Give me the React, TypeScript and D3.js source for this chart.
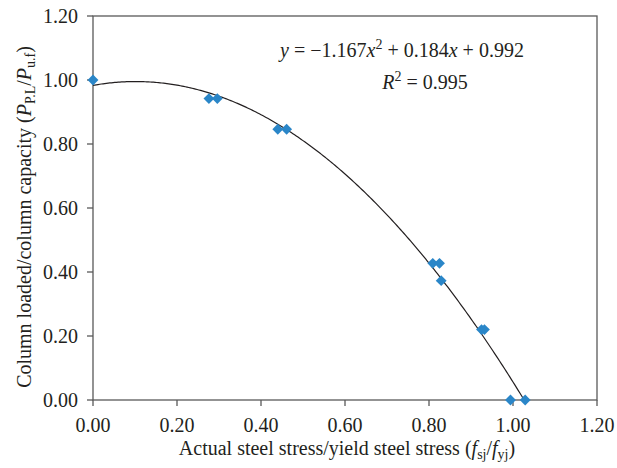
import React from "react";
import * as d3 from "d3";

const xValues = [0.0, 0.276, 0.296, 0.44, 0.461, 0.809, 0.825, 0.829, 0.925, 0.932, 0.994, 1.029];
const yValues = [1.0, 0.942, 0.942, 0.846, 0.846, 0.427, 0.427, 0.373, 0.22, 0.22, 0.0, 0.0];
const xTicks = [0, 0.2, 0.4, 0.6, 0.8, 1.0, 1.2];
const yTicks = [0, 0.2, 0.4, 0.6, 0.8, 1.0, 1.2];

const W = 617, H = 468;
const M = { left: 93, top: 16, right: 597, bottom: 400 };
const FONT = "'Liberation Serif', 'Times New Roman', serif";
const AXIS = "#595959";
const FS = 20;
const SUB = 14;

// least-squares quadratic fit of the data (trendline)
function quadFit(xs: number[], ys: number[]) {
  const s = (p: number) => d3.sum(xs, (v) => Math.pow(v, p));
  const t = (p: number) => d3.sum(xs, (v, i) => Math.pow(v, p) * ys[i]);
  const A = [
    [s(4), s(3), s(2)],
    [s(3), s(2), s(1)],
    [s(2), s(1), xs.length],
  ];
  const b = [t(2), t(1), t(0)];
  const det = (m: number[][]) =>
    m[0][0] * (m[1][1] * m[2][2] - m[1][2] * m[2][1]) -
    m[0][1] * (m[1][0] * m[2][2] - m[1][2] * m[2][0]) +
    m[0][2] * (m[1][0] * m[2][1] - m[1][1] * m[2][0]);
  const D = det(A);
  return [0, 1, 2].map((k) => det(A.map((row, r) => row.map((v, c) => (c === k ? b[r] : v)))) / D);
}

export default function App() {
  const x = d3.scaleLinear().domain([0, 1.2]).range([M.left, M.right]);
  const y = d3.scaleLinear().domain([0, 1.2]).range([M.bottom, M.top]);
  const c = quadFit(xValues, yValues);
  const fit = (v: number) => c[0] * v * v + c[1] * v + c[2];
  const xs = d3.range(0, d3.max(xValues)! + 0.0001, 0.004);
  const line = d3.line<number>().x((v) => x(v)).y((v) => y(fit(v)));
  const diamond = d3.symbol().type(d3.symbolDiamond2).size(75)();
  return (
    <svg width={W} height={H} style={{ position: "absolute", left: 0, top: 0, background: "#fff" }} fontFamily={FONT}>
      <defs>
        <clipPath id="plot">
          <rect x={M.left} y={M.top} width={M.right - M.left} height={M.bottom - M.top} />
        </clipPath>
      </defs>
      <rect x={M.left} y={M.top} width={M.right - M.left} height={M.bottom - M.top} fill="none" stroke={AXIS} strokeWidth={1.3} />
      {xTicks.map((t) => (
        <g key={"x" + t}>
          <line x1={x(t)} x2={x(t)} y1={M.bottom} y2={M.bottom + 6} stroke={AXIS} strokeWidth={1.3} />
          <text x={x(t)} y={M.bottom + 32} textAnchor="middle" fontSize={FS} fill="#231f20">{t.toFixed(2)}</text>
        </g>
      ))}
      {yTicks.map((t) => (
        <g key={"y" + t}>
          <line x1={M.left - 6} x2={M.left} y1={y(t)} y2={y(t)} stroke={AXIS} strokeWidth={1.3} />
          <text x={M.left - 15} y={y(t) + 7} textAnchor="end" fontSize={FS} fill="#231f20">{t.toFixed(2)}</text>
        </g>
      ))}
      <path d={line(xs) || ""} fill="none" stroke="#231f20" strokeWidth={1.2} clipPath="url(#plot)" />
      {xValues.map((v, i) => (
        <path key={i} d={diamond || ""} transform={`translate(${x(v)},${y(yValues[i])})`} fill="#2a86c8" />
      ))}
      <text x={402} y={57} textAnchor="middle" fontSize={FS} fill="#231f20">
        <tspan fontStyle="italic">y</tspan> = −1.167<tspan fontStyle="italic">x</tspan>
        <tspan fontSize={SUB} dy={-8}>2</tspan>
        <tspan dy={8}> + 0.184</tspan><tspan fontStyle="italic">x</tspan> + 0.992
      </text>
      <text x={425} y={89} textAnchor="middle" fontSize={FS} fill="#231f20">
        <tspan fontStyle="italic">R</tspan>
        <tspan fontSize={SUB} dy={-8}>2</tspan>
        <tspan dy={8}> = 0.995</tspan>
      </text>
      <text x={347} y={455} textAnchor="middle" fontSize={FS} fill="#231f20">
        Actual steel stress/yield steel stress (<tspan fontStyle="italic">f</tspan>
        <tspan fontSize={SUB} dy={4}>sj</tspan>
        <tspan dy={-4}>/</tspan><tspan fontStyle="italic">f</tspan>
        <tspan fontSize={SUB} dy={4}>yj</tspan>
        <tspan dy={-4}>)</tspan>
      </text>
      <text transform={`translate(31,${217}) rotate(-90)`} textAnchor="middle" fontSize={FS} fill="#231f20">
        Column loaded/column capacity (<tspan fontStyle="italic">P</tspan>
        <tspan fontSize={SUB} dy={4}>P.L</tspan>
        <tspan dy={-4}>/</tspan><tspan fontStyle="italic">P</tspan>
        <tspan fontSize={SUB} dy={4}>u.f</tspan>
        <tspan dy={-4}>)</tspan>
      </text>
    </svg>
  );
}
